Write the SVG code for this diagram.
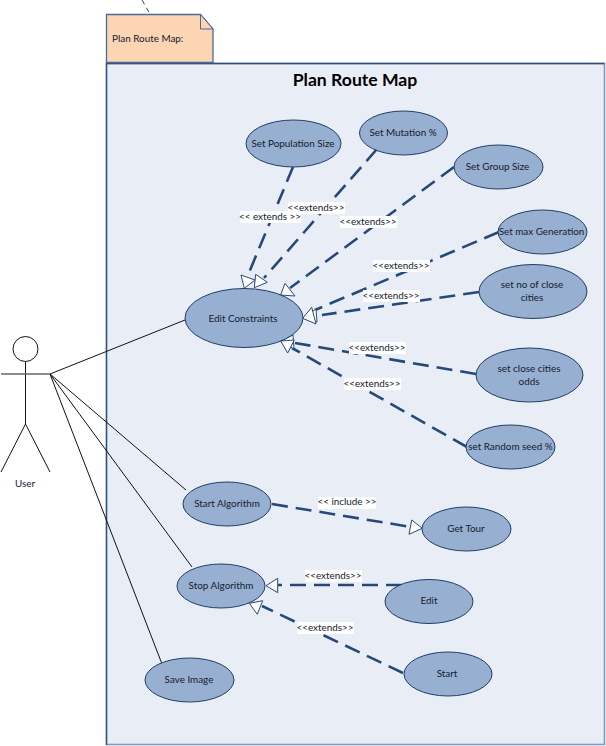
<svg xmlns="http://www.w3.org/2000/svg" width="606" height="746" viewBox="0 0 606 746">
<style>
text{font-family:Lato,"Open Sans","Liberation Sans",sans-serif;font-size:9.9px;fill:#14202e;text-anchor:middle}
.uc{fill:#97afd1;stroke:#1f3d66;stroke-width:1}
.dash{fill:none;stroke:#26497a;stroke-width:2.6;stroke-dasharray:16 8}
.tri{fill:#fff;stroke:#2a4a75;stroke-width:1;stroke-linejoin:miter}
.line{fill:none;stroke:#111;stroke-width:1}
.lab{fill:#fff}
</style>
<rect width="606" height="746" fill="#fff"/>
<g id="boundary"><rect x="106.500" y="63.500" width="498" height="681" fill="#e9eef6" stroke="#7f99bf" stroke-width="1.600"/>
<path d="M106.500,745V63.500H604.500" fill="none" stroke="#2f4f7a" stroke-width="1.300"/>
<text x="355" y="86" style="font-size:17.600px;font-weight:bold;fill:#000">Plan Route Map</text></g>
<g id="note"><path d="M106.500,14.500H200.500L213,29V62.500H106.500Z" fill="#fcd5b5" stroke="#4a6a94" stroke-width="1.300"/><path d="M200.500,14.500V29H213Z" fill="#fcd5b5" stroke="#4a6a94" stroke-width="1"/>
<text x="112" y="42" style="text-anchor:start">Plan Route Map:</text></g>
<g id="connectors">
<path d="M142,0L150,14" fill="none" stroke="#2f4f7a" stroke-dasharray="5 4"/>
<path class="line" d="M50,374L185,320M50,374L186,490M50,374L192,567M50,374L162,664"/>
<path class="dash" d="M293,167L248,275"/>
<path class="dash" d="M377,149L264,278"/>
<path class="dash" d="M454,167L290,288"/>
<path class="dash" d="M499,232L315,310"/>
<path class="dash" d="M479,292L322,315"/>
<path class="dash" d="M476,374L295,343"/>
<path class="dash" d="M467,447L292,348"/>
<path class="dash" d="M272,504L411,527"/>
<path class="dash" d="M402,585H278"/>
<path class="dash" d="M403,673L262,606"/>
<path class="tri" d="M241,275L244.300,288.300L255,280Z"/>
<path class="tri" d="M255.700,274.300L254.300,287.700L267.300,282.300Z"/>
<path class="tri" d="M285,283.300L280.700,295L295,296Z"/>
<path class="tri" d="M303,318L316,309L317,322Z"/>
<path class="tri" d="M311.700,307.300L302.700,318.300L316,324Z"/>
<path class="tri" d="M281,341L293,335L294,349Z"/>
<path class="tri" d="M280.700,341L294.300,340L287.700,353Z"/>
<path class="tri" d="M411.700,520L409,534.300L422.300,528.300Z"/>
<path class="tri" d="M277.700,578.300L266,585.700L277.700,592.700Z"/>
<path class="tri" d="M249.300,603.300L262.700,600.700L257.300,614.300Z"/>
</g>
<g id="labels">
<rect class="lab" x="240" y="211" width="61" height="12"/><text x="270" y="220">&lt;&lt; extends &gt;&gt;</text>
<rect class="lab" x="288" y="202" width="57" height="12"/><text x="316" y="211">&lt;&lt;extends&gt;&gt;</text>
<rect class="lab" x="340" y="216" width="57" height="12"/><text x="368" y="225">&lt;&lt;extends&gt;&gt;</text>
<rect class="lab" x="373" y="260" width="57" height="12"/><text x="401" y="269">&lt;&lt;extends&gt;&gt;</text>
<rect class="lab" x="363" y="290" width="57" height="12"/><text x="391" y="299">&lt;&lt;extends&gt;&gt;</text>
<rect class="lab" x="349" y="342" width="57" height="12"/><text x="377" y="351">&lt;&lt;extends&gt;&gt;</text>
<rect class="lab" x="344" y="378" width="57" height="12"/><text x="372" y="387">&lt;&lt;extends&gt;&gt;</text>
<rect class="lab" x="318" y="497" width="58" height="12"/><text x="347" y="505">&lt;&lt; include &gt;&gt;</text>
<rect class="lab" x="305" y="570" width="57" height="12"/><text x="333" y="579">&lt;&lt;extends&gt;&gt;</text>
<rect class="lab" x="297" y="622" width="57" height="12"/><text x="325" y="631">&lt;&lt;extends&gt;&gt;</text>
</g>
<g id="user"><circle cx="25.500" cy="349" r="12.500" fill="#fff" stroke="#111" stroke-width="1"/><path d="M25.500,362V424L1,472M25.500,424L50,472" fill="none" stroke="#111" stroke-width="1"/><path d="M1,374H50" stroke="#666" stroke-width="1.500"/><text x="25" y="487">User</text></g>
<g id="n1"><ellipse class="uc" cx="293.500" cy="143.500" rx="47.500" ry="23.500"/><text x="293" y="147">Set Population Size</text></g>
<g id="n2"><ellipse class="uc" cx="403.500" cy="133" rx="44" ry="22"/><text x="403" y="136">Set Mutation %</text></g>
<g id="n3"><ellipse class="uc" cx="498.500" cy="167" rx="44.500" ry="22"/><text x="497.500" y="170">Set Group Size</text></g>
<g id="n4"><ellipse class="uc" cx="542.500" cy="232" rx="44.500" ry="22"/><text x="541.500" y="235">Set max Generation</text></g>
<g id="n5"><ellipse class="uc" cx="533" cy="291.500" rx="54" ry="27"/><text x="532" y="288">set no of close</text><text x="532" y="301">cities</text></g>
<g id="n6"><ellipse class="uc" cx="529.500" cy="375" rx="53.500" ry="27"/><text x="529" y="372">set close cities</text><text x="529" y="385">odds</text></g>
<g id="n7"><ellipse class="uc" cx="510.500" cy="447" rx="44.500" ry="22"/><text x="510.500" y="450">set Random seed %</text></g>
<g id="n8"><ellipse class="uc" cx="244" cy="318" rx="59" ry="29.500"/><text x="243" y="322">Edit Constraints</text></g>
<g id="n9"><ellipse class="uc" cx="227" cy="504" rx="44" ry="22"/><text x="227" y="507">Start Algorithm</text></g>
<g id="n10"><ellipse class="uc" cx="466.500" cy="529" rx="44.500" ry="22"/><text x="466" y="532">Get Tour</text></g>
<g id="n11"><ellipse class="uc" cx="221" cy="586" rx="44" ry="22"/><text x="221" y="589">Stop Algorithm</text></g>
<g id="n12"><ellipse class="uc" cx="429" cy="601.500" rx="44" ry="22"/><text x="429" y="604">Edit</text></g>
<g id="n13"><ellipse class="uc" cx="448" cy="674" rx="44" ry="22"/><text x="447" y="677">Start</text></g>
<g id="n14"><ellipse class="uc" cx="189.500" cy="680" rx="44.500" ry="22"/><text x="189" y="683">Save Image</text></g>
</svg>
